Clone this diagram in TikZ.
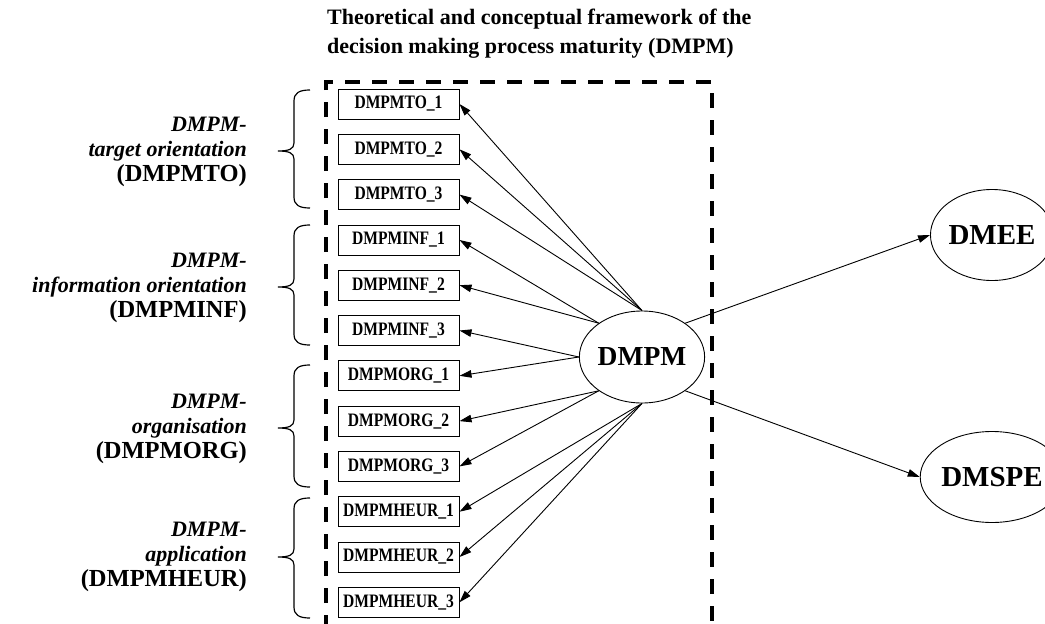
\documentclass[tikz,border=0pt]{standalone}
\usepackage{fontspec}
\setmainfont{Liberation Serif}
\newfontfamily\indfont{Liberation Serif}[FakeStretch=0.82]
\usetikzlibrary{arrows.meta,shapes.geometric}

\tikzset{
  ind/.style={draw, line width=1pt, minimum width=121pt, minimum height=30pt,
    inner sep=0pt, font=\indfont\fontsize{19}{21}\selectfont\bfseries},
  lat/.style={draw, ellipse, line width=0.9pt, minimum width=122pt,
    minimum height=92pt, inner sep=0pt, font=\fontsize{27.5}{30}\selectfont\bfseries},
  load/.style={line width=0.9pt, -{Triangle[length=12pt,width=7.5pt]}},
  grp/.style={align=right, anchor=east, inner sep=0pt,
    font=\fontsize{24.5}{25}\selectfont\bfseries},
  grpit/.style={font=\fontsize{22}{25}\selectfont\bfseries\itshape},
  ttl/.style={anchor=base west, inner sep=0pt, font=\fontsize{22}{26}\selectfont\bfseries},
  frame/.style={line width=3.5pt, dash pattern=on 15pt off 12pt},
  brc/.style={line width=1.2pt}
}

% curly brace: top y, tip y, bottom y
\newcommand\grpbrace[3]{%
  \draw[brc] (310,#1) .. controls (299,#1) and (294,#1+3) .. (294,#1+11)
    -- (294,#2-8) .. controls (294,#2-2) and (289,#2) .. (278,#2)
    .. controls (289,#2) and (294,#2+2) .. (294,#2+8)
    -- (294,#3-11) .. controls (294,#3-3) and (299,#3) .. (310,#3);}
% italic line of a dimension label
\newcommand\dimit[1]{{\fontsize{22}{25}\selectfont\itshape #1}}

\begin{document}
\begin{tikzpicture}[x=1pt,y=-1pt]
\useasboundingbox (0,0) rectangle (1045,624);
\clip (0,0) rectangle (1045,624);

% title
\node[ttl] (t1) at (327,24) {Theoretical and conceptual framework of the};
\node[ttl] (t2) at (327,53) {decision making process maturity (DMPM)};

% dashed frame, open at the bottom
\draw[frame] (326,630) -- (326,82) -- (712,82) -- (712,630);

% indicator boxes
\foreach \nm/\tx/\yy in {
  to1/DMPMTO\_1/104, to2/DMPMTO\_2/149.3, to3/DMPMTO\_3/194.6,
  inf1/DMPMINF\_1/240, inf2/DMPMINF\_2/285.2, inf3/DMPMINF\_3/330.5,
  org1/DMPMORG\_1/375.8, org2/DMPMORG\_2/421.1, org3/DMPMORG\_3/466.4,
  heur1/DMPMHEUR\_1/511.7, heur2/DMPMHEUR\_2/557, heur3/DMPMHEUR\_3/602.3}
  \node[ind] (\nm) at (398.5,\yy) {\tx};

% latent constructs
\node[lat] (dmpm) at (642,357) {DMPM};
\node[lat, minimum width=114pt, minimum height=91pt,
  font=\fontsize{29}{31}\selectfont\bfseries] (dmee) at (992,235) {DMEE};
\node[lat, minimum width=114pt, minimum height=91pt,
  font=\fontsize{29}{31}\selectfont\bfseries] (dmspe) at (992,477) {DMSPE};

% loadings
\foreach \b in {to1,to2,to3} \draw[load] (dmpm.north) -- (\b.east);
\foreach \b in {inf1,inf2} \draw[load] (dmpm.142) -- (\b.east);
\foreach \b in {inf3,org1} \draw[load] (dmpm.west) -- (\b.east);
\foreach \b in {org2,org3} \draw[load] (dmpm.218) -- (\b.east);
\foreach \b in {heur1,heur2,heur3} \draw[load] (dmpm.south) -- (\b.east);

% structural paths
\draw[load] (dmpm.38) -- (dmee.west);
\draw[load] (dmpm.-38) -- (dmspe.west);

% dimension braces and labels
\grpbrace{90}{151}{208}
\grpbrace{225}{287}{345}
\grpbrace{365}{428}{487}
\grpbrace{498}{557}{618}

\node[grp] (gto) at (247,152) {\dimit{DMPM-}\\\dimit{target orientation}\\(DMPMTO)};
\node[grp] (ginf) at (247,288) {\dimit{DMPM-}\\\dimit{information orientation}\\(DMPMINF)};
\node[grp] (gorg) at (247,429) {\dimit{DMPM-}\\\dimit{organisation}\\(DMPMORG)};
\node[grp] (gheur) at (247,557) {\dimit{DMPM-}\\\dimit{application}\\(DMPMHEUR)};
\end{tikzpicture}
\end{document}
